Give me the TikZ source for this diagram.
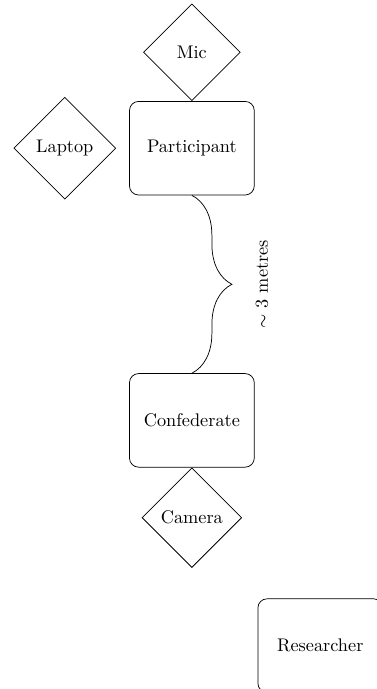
\documentclass[tikz,border=0pt]{standalone}
\usepackage{tikz}
\usetikzlibrary{shapes, positioning, decorations.pathreplacing}

\begin{document}
\begin{tikzpicture}[
            person/.style={rectangle, rounded corners=5pt, draw, align=center, minimum width=2.4cm, minimum height=1.8cm},
            device/.style={diamond, draw, align=center, minimum size=1.86cm},
            gap/.style={decorate, decoration={brace, amplitude=0.77cm}}
        ]
            \useasboundingbox (-3.69,-10.4) rectangle (3.56,2.85);
            \node[person] (participant) at (0,0) {Participant};
            \node[device, above=0pt of participant] (mic) {Mic};
            \node[device, minimum size=1.96cm, left=0.25cm of participant] (laptop) {Laptop};
            \node[person, below=3.42cm of participant] (confederate) {Confederate};
            \node[device, below=0pt of confederate] (camera) {Camera};
            \node[person, below right=1.07cm and 0.78cm of camera] (researcher) {Researcher};
            \draw[gap] (participant.south) -- (confederate.north)
                node[midway, xshift=1.35cm, rotate=90] {$\sim$ 3 metres};
        \end{tikzpicture}
\end{document}
